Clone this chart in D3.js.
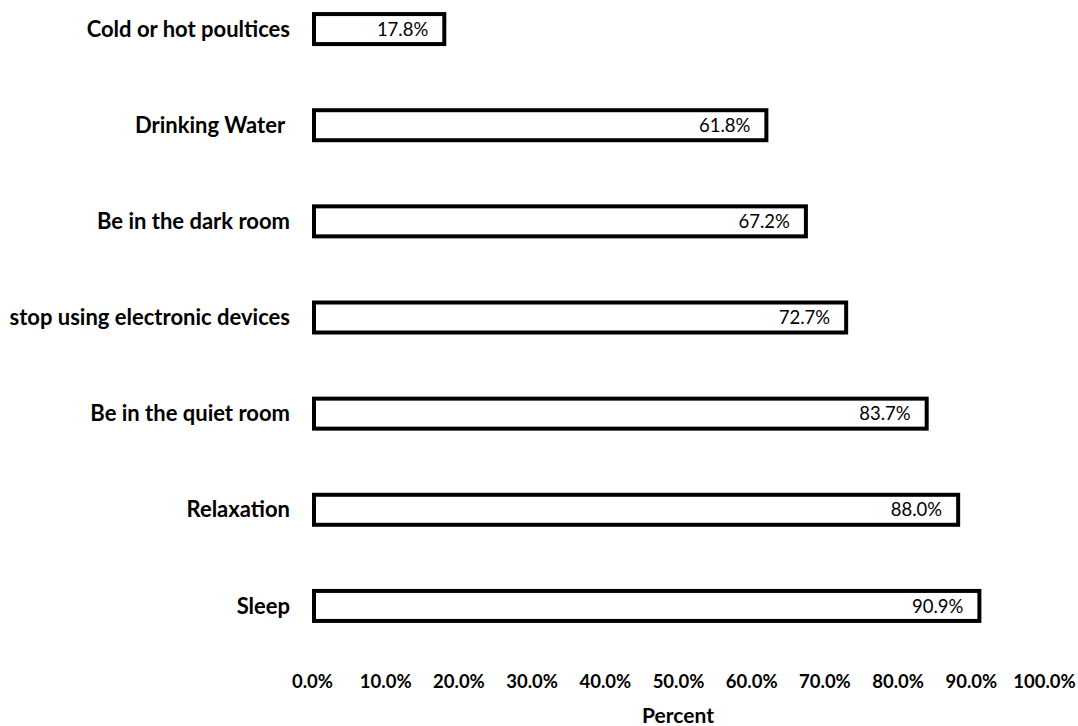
<!DOCTYPE html>
<html>
<head>
<meta charset="utf-8">
<script src="https://cdn.jsdelivr.net/npm/d3@7"></script>
<style>
  html, body { margin: 0; padding: 0; background: #fff; }
  svg { display: block; }
</style>
</head>
<body>
<svg id="chart" width="1078" height="726"></svg>
<script>
// Self-care measures and the share of respondents using each
const categories = [
  "Cold or hot poultices",
  "Drinking Water ",
  "Be in the dark room",
  "stop using electronic devices",
  "Be in the quiet room",
  "Relaxation",
  "Sleep"
];
const values = [17.8, 61.8, 67.2, 72.7, 83.7, 88.0, 90.9];
const tickValues = [0, 10, 20, 30, 40, 50, 60, 70, 80, 90, 100];
const axisTitle = "Percent";

const svg = d3.select("#chart");
const font = "Lato, 'Open Sans', sans-serif";

const x = d3.scaleLinear().domain([0, 100]).range([312, 1044]);
const y = d3.scaleBand().domain(categories).range([-19, 654]).paddingInner(0.69).paddingOuter(0.345);

const rows = svg.append("g")
  .selectAll("g")
  .data(categories.map((c, i) => ({ c, v: values[i] })))
  .join("g");

rows.append("rect")
  .attr("x", x(0) + 2)
  .attr("y", d => y(d.c) + y.bandwidth() / 2 - 15)
  .attr("width", d => x(d.v) - x(0))
  .attr("height", 30)
  .attr("fill", "#fff")
  .attr("stroke", "#000")
  .attr("stroke-width", 4);

rows.append("text")
  .attr("x", d => x(d.v) - 14)
  .attr("y", d => y(d.c) + y.bandwidth() / 2)
  .attr("dy", "0.36em")
  .attr("text-anchor", "end")
  .attr("font-family", font)
  .attr("font-size", 18.5)
  .attr("fill", "#000")
  .text(d => d.v.toFixed(1) + "%");

rows.append("text")
  .attr("x", 290)
  .attr("y", d => y(d.c) + y.bandwidth() / 2)
  .attr("dy", "0.35em")
  .attr("text-anchor", "end")
  .attr("font-family", font)
  .attr("font-weight", "bold")
  .attr("font-size", 22)
  .attr("fill", "#000")
  .style("white-space", "pre")
  .text(d => d.c);

// Bottom axis: labels only, no line or tick marks
const axis = svg.append("g")
  .attr("transform", "translate(0,667)")
  .call(d3.axisBottom(x).tickValues(tickValues).tickSize(0).tickPadding(8)
    .tickFormat(d => d.toFixed(1) + "%"));
axis.select(".domain").remove();
axis.selectAll("text")
  .attr("font-family", font)
  .attr("font-weight", "bold")
  .attr("font-size", 18.5)
  .attr("fill", "#000");

svg.append("text")
  .attr("x", 678)
  .attr("y", 723)
  .attr("text-anchor", "middle")
  .attr("font-family", font)
  .attr("font-weight", "bold")
  .attr("font-size", 21)
  .attr("fill", "#000")
  .text(axisTitle);
</script>
</body>
</html>
